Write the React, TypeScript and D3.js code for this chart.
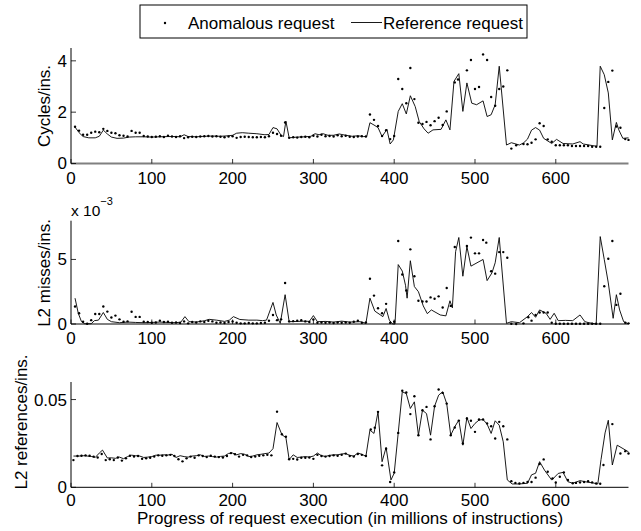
import React from 'react';
import * as d3 from 'd3';

// ---------- data ----------
const xTicks = [0, 100, 200, 300, 400, 500, 600];
const cpiTicks = [0, 2, 4];
const cpiTickLabels = ['0', '2', '4'];
const l2mTicks = [0, 5];
const l2mTickLabels = ['0', '5'];
const l2rTicks = [0, 0.05];
const l2rTickLabels = ['0', '0.05'];

const legendLabels = ['Anomalous request', 'Reference request'];
const yLabels = ['Cycles/ins.', 'L2 misses/ins.', 'L2 references/ins.'];
const xLabel = 'Progress of request execution (in millions of instructions)';

// Cycles per instruction — reference request (line)
const cpiRef: [number, number][] = [
  [5, 1.42], [10, 1.2], [15, 1.05], [22, 1.0], [30, 1.0], [35, 1.06], [40, 1.3], [45, 1.15], [50, 1.03], [57, 0.98],
  [65, 0.99], [72, 1.03], [80, 1.04], [90, 1.04], [100, 1.03], [110, 1.04], [120, 1.05], [130, 1.05], [135, 1.04], [140, 1.12],
  [145, 1.05], [155, 1.04], [165, 1.06], [175, 1.07], [185, 1.06], [195, 1.08], [200, 1.1], [205, 1.18], [212, 1.2], [220, 1.18],
  [230, 1.16], [240, 1.12], [245, 1.13], [250, 1.4], [255, 1.35], [260, 1.1], [263, 1.05], [266, 1.65], [270, 1.0], [280, 1.03],
  [290, 1.04], [297, 1.06], [302, 1.16], [307, 1.12], [312, 1.16], [318, 1.1], [325, 1.1], [332, 1.15], [340, 1.1], [348, 1.06],
  [355, 1.08], [362, 1.05], [366, 1.05], [370, 1.59], [375, 1.5], [380, 1.4], [385, 1.05], [391, 1.33], [395, 0.76], [399, 0.92],
  [405, 2.03], [410, 2.33], [415, 1.93], [420, 2.64], [426, 2.22], [431, 1.63], [437, 1.35], [442, 1.18], [448, 1.31], [458, 1.33],
  [464, 1.7], [469, 1.31], [474, 3.2], [480, 3.5], [485, 2.03], [490, 3.14], [496, 2.35], [502, 2.29], [510, 2.44], [515, 1.83],
  [520, 1.9], [525, 2.29], [530, 3.79], [539, 0.72], [545, 0.81], [555, 0.72], [560, 0.8], [565, 0.95], [570, 1.3], [575, 1.4],
  [580, 1.3], [585, 0.98], [595, 0.78], [601, 0.94], [609, 0.78], [621, 0.76], [630, 0.85], [634, 0.76], [645, 0.7], [651, 0.67],
  [655, 3.79], [660, 3.46], [665, 2.75], [670, 0.92], [675, 1.6], [678, 1.31], [683, 0.98], [690, 1.0],
];

// Cycles per instruction — anomalous request (dots)
const cpiAnom: [number, number][] = [
  [5, 1.43], [10, 1.28], [15, 1.12], [20, 1.12], [25, 1.2], [30, 1.24], [35, 1.22], [40, 1.35], [45, 1.27], [50, 1.2],
  [55, 1.18], [60, 1.1], [65, 1.08], [70, 1.05], [75, 1.27], [80, 1.2], [85, 1.2], [90, 1.07], [95, 1.05], [100, 1.03],
  [105, 1.04], [110, 1.06], [115, 1.03], [120, 1.08], [125, 1.05], [130, 1.03], [135, 1.06], [140, 0.99], [145, 1.02], [150, 1.04],
  [155, 1.03], [160, 1.05], [165, 1.06], [170, 1.07], [175, 1.05], [180, 1.06], [185, 1.04], [190, 1.02], [195, 1.05], [200, 1.06],
  [205, 1.0], [210, 1.03], [215, 1.04], [220, 1.03], [225, 1.02], [230, 1.02], [235, 1.03], [240, 1.02], [245, 1.06], [250, 1.2],
  [255, 1.15], [260, 1.08], [265, 1.6], [270, 1.0], [275, 1.02], [280, 1.01], [285, 1.03], [290, 1.04], [295, 1.02], [300, 1.08],
  [305, 1.05], [310, 1.12], [315, 1.06], [320, 1.07], [325, 1.05], [330, 1.1], [335, 1.06], [340, 1.08], [345, 1.04], [350, 1.03],
  [355, 1.05], [360, 1.06], [365, 1.05], [370, 1.91], [375, 1.7], [380, 1.46], [385, 1.07], [390, 1.3], [395, 0.95], [400, 1.07],
  [405, 3.29], [410, 2.9], [415, 2.35], [420, 3.72], [425, 2.51], [430, 1.59], [435, 1.54], [440, 1.62], [445, 1.49], [450, 1.65],
  [455, 1.78], [460, 1.5], [465, 2.03], [475, 3.16], [479, 3.27], [490, 3.63], [495, 4.03], [500, 2.9], [505, 2.98], [510, 4.25],
  [515, 4.03], [520, 2.59], [525, 2.25], [530, 2.9], [535, 3.0], [540, 3.63], [545, 0.58], [551, 0.71], [560, 0.76], [565, 0.75],
  [570, 0.81], [575, 0.94], [580, 1.57], [585, 1.46], [590, 0.94], [595, 0.85], [600, 0.71], [605, 0.71], [610, 0.71], [615, 0.71],
  [620, 0.68], [625, 0.68], [630, 0.68], [635, 0.68], [640, 0.68], [645, 0.65], [650, 0.65], [655, 0.65], [660, 2.16], [665, 3.18],
  [670, 3.62], [675, 1.44], [680, 1.39], [686, 0.95], [690, 0.92],
];

// L2 misses per instruction (x 10^-3) — reference (line)
const l2mRef: [number, number][] = [
  [5, 2.0], [9, 0.83], [13, 0.18], [17, 0.02], [25, 0.02], [29, 0.26], [34, 0.3], [40, 0.89], [45, 0.36], [50, 0.18],
  [60, 0.1], [70, 0.15], [80, 0.12], [90, 0.1], [100, 0.12], [110, 0.15], [120, 0.12], [130, 0.1], [136, 0.15], [141, 0.57],
  [146, 0.18], [155, 0.15], [165, 0.25], [171, 0.36], [180, 0.3], [190, 0.2], [196, 0.3], [201, 0.57], [209, 0.35], [220, 0.3],
  [230, 0.3], [237, 0.26], [242, 0.3], [250, 1.67], [254, 0.7], [259, 0.05], [265, 2.27], [270, 0.18], [280, 0.2], [290, 0.22],
  [295, 0.2], [300, 0.65], [305, 0.18], [315, 0.2], [325, 0.15], [335, 0.22], [345, 0.15], [358, 0.18], [365, 0.05], [370, 2.0],
  [376, 1.0], [386, 0.57], [390, 1.2], [394, 0.3], [398, 0.0], [401, 0.0], [405, 4.6], [410, 4.1], [414, 3.0], [416, 2.0],
  [420, 4.9], [425, 2.9], [430, 2.5], [436, 1.4], [441, 0.8], [446, 1.09], [457, 0.7], [464, 0.63], [469, 1.8], [472, 1.25],
  [476, 5.6], [480, 6.7], [485, 3.7], [490, 6.0], [495, 4.48], [510, 5.0], [515, 3.36], [521, 3.96], [525, 4.74], [530, 6.7],
  [539, 0.05], [545, 0.18], [555, 0.1], [565, 0.57], [570, 0.89], [575, 0.52], [580, 1.09], [588, 0.83], [593, 0.36], [598, 0.83],
  [603, 0.26], [612, 0.28], [621, 0.26], [630, 0.7], [636, 0.18], [641, 0.1], [650, 0.0], [655, 6.77], [660, 5.0], [665, 3.18],
  [671, 0.44], [675, 2.27], [679, 1.09], [684, 0.18], [690, 0.0],
];

// L2 misses per instruction (x 10^-3) — anomalous (dots)
const l2mAnom: [number, number][] = [
  [5, 1.35], [10, 0.83], [15, 0.18], [20, 0.02], [25, 0.3], [30, 0.78], [35, 0.78], [40, 1.35], [45, 0.96], [50, 0.5],
  [55, 0.65], [60, 0.36], [65, 0.18], [70, 0.2], [75, 0.95], [80, 0.55], [85, 0.55], [90, 0.18], [95, 0.15], [100, 0.1],
  [105, 0.12], [110, 0.26], [115, 0.15], [120, 0.18], [125, 0.1], [130, 0.12], [135, 0.08], [140, 0.2], [145, 0.05], [150, 0.15],
  [155, 0.12], [160, 0.2], [165, 0.15], [170, 0.25], [175, 0.2], [180, 0.1], [185, 0.12], [190, 0.08], [195, 0.15], [200, 0.2],
  [205, 0.1], [210, 0.05], [215, 0.05], [220, 0.08], [225, 0.05], [230, 0.05], [235, 0.08], [240, 0.1], [245, 0.25], [250, 0.7],
  [255, 0.3], [260, 0.36], [265, 3.18], [270, 0.2], [275, 0.22], [280, 0.25], [285, 0.3], [290, 0.2], [295, 0.15], [300, 0.35],
  [305, 0.1], [310, 0.12], [315, 0.1], [320, 0.12], [325, 0.08], [330, 0.12], [335, 0.1], [340, 0.12], [345, 0.1], [350, 0.18],
  [355, 0.25], [360, 0.1], [365, 0.12], [370, 3.5], [375, 2.2], [380, 1.22], [385, 0.83], [390, 1.56], [395, 0.1], [400, 0.18],
  [405, 6.43], [410, 3.83], [415, 2.6], [420, 5.78], [425, 3.7], [430, 1.8], [435, 1.74], [440, 1.74], [445, 2.06], [450, 1.95],
  [455, 2.14], [460, 1.28], [465, 2.79], [470, 1.4], [475, 5.96], [490, 6.04], [495, 6.69], [500, 5.47], [505, 5.47], [510, 6.51],
  [514, 6.3], [520, 4.09], [525, 3.9], [530, 5.57], [535, 5.57], [540, 5.13], [545, 0.02], [551, 0.0], [560, 0.05], [566, 0.52],
  [570, 0.26], [575, 0.7], [580, 0.89], [585, 0.89], [590, 0.89], [595, 0.1], [600, 0.02], [605, 0.02], [610, 0.02], [615, 0.02],
  [620, 0.02], [625, 0.02], [630, 0.02], [635, 0.02], [640, 0.02], [645, 0.02], [650, 0.02], [655, 0.02], [660, 2.92], [665, 5.05],
  [670, 6.43], [675, 1.48], [680, 2.34], [686, 0.1], [690, 0.05],
];

// L2 references per instruction — reference (line)
const l2rRef: [number, number][] = [
  [3, 0.0178], [10, 0.0178], [15, 0.018], [20, 0.0178], [25, 0.0176], [30, 0.017], [35, 0.0195], [39, 0.0212], [45, 0.0167], [50, 0.0168],
  [55, 0.0165], [60, 0.0172], [65, 0.0163], [70, 0.0175], [75, 0.0183], [80, 0.018], [85, 0.0178], [90, 0.017], [95, 0.0172], [100, 0.0175],
  [105, 0.0183], [110, 0.0183], [115, 0.0185], [120, 0.0184], [125, 0.0188], [130, 0.017], [135, 0.018], [140, 0.0175], [145, 0.0172], [150, 0.0178],
  [155, 0.018], [160, 0.0185], [165, 0.0176], [170, 0.0178], [175, 0.0175], [180, 0.0172], [185, 0.0176], [190, 0.0178], [195, 0.0193], [200, 0.0195],
  [205, 0.0185], [210, 0.0192], [215, 0.0188], [220, 0.0175], [225, 0.0178], [230, 0.0185], [235, 0.0188], [240, 0.0192], [245, 0.0195], [250, 0.022],
  [255, 0.0369], [261, 0.03], [266, 0.0283], [270, 0.0158], [275, 0.0185], [280, 0.017], [285, 0.0172], [290, 0.0175], [295, 0.0172], [300, 0.0178],
  [305, 0.0195], [310, 0.018], [315, 0.0176], [320, 0.0182], [325, 0.0185], [330, 0.0185], [335, 0.019], [340, 0.0192], [345, 0.0182], [350, 0.0178],
  [355, 0.0195], [360, 0.0188], [365, 0.0177], [370, 0.0326], [375, 0.0307], [380, 0.043], [385, 0.0146], [390, 0.0227], [396, 0.0042], [400, 0.008],
  [405, 0.031], [410, 0.0544], [415, 0.0534], [420, 0.0449], [425, 0.0487], [430, 0.0297], [435, 0.0439], [440, 0.042], [445, 0.0297], [450, 0.0462],
  [455, 0.0525], [460, 0.0544], [465, 0.0477], [470, 0.0297], [475, 0.0345], [480, 0.0383], [485, 0.024], [490, 0.0398], [495, 0.0335], [500, 0.0364],
  [505, 0.0383], [510, 0.0386], [515, 0.036], [520, 0.0307], [525, 0.0379], [530, 0.0354], [535, 0.0259], [540, 0.0042], [546, 0.0019], [555, 0.0019],
  [565, 0.0023], [570, 0.0071], [575, 0.008], [580, 0.0146], [586, 0.0098], [595, 0.0041], [603, 0.0079], [609, 0.0085], [615, 0.0032], [621, 0.0023],
  [630, 0.0038], [638, 0.003], [646, 0.0025], [652, 0.0019], [656, 0.0158], [661, 0.031], [665, 0.0382], [670, 0.0127], [676, 0.024], [690, 0.0202],
];

// L2 references per instruction — anomalous (dots)
const l2rAnom: [number, number][] = [
  [3, 0.0155], [8, 0.0178], [13, 0.018], [18, 0.0182], [23, 0.018], [28, 0.0175], [33, 0.017], [38, 0.019], [43, 0.0155], [48, 0.016],
  [53, 0.0155], [58, 0.017], [63, 0.0152], [68, 0.0165], [73, 0.018], [78, 0.0175], [83, 0.0178], [88, 0.0162], [93, 0.0165], [98, 0.0168],
  [103, 0.0175], [108, 0.0182], [113, 0.018], [118, 0.0182], [123, 0.0185], [128, 0.0178], [133, 0.016], [138, 0.0148], [143, 0.0165], [148, 0.0175],
  [153, 0.0168], [158, 0.0182], [163, 0.0178], [168, 0.0172], [173, 0.018], [178, 0.0175], [183, 0.0172], [188, 0.017], [193, 0.0178], [198, 0.0195],
  [203, 0.0188], [208, 0.0175], [213, 0.0185], [218, 0.0182], [223, 0.0172], [228, 0.0175], [233, 0.018], [238, 0.0182], [243, 0.0185], [248, 0.0182],
  [255, 0.0431], [261, 0.0302], [266, 0.0288], [270, 0.016], [275, 0.0162], [280, 0.0158], [285, 0.0168], [290, 0.0168], [295, 0.017], [300, 0.0162],
  [305, 0.0185], [310, 0.0178], [315, 0.0175], [320, 0.0178], [325, 0.0182], [330, 0.018], [335, 0.0185], [340, 0.0192], [345, 0.0178], [350, 0.0175],
  [355, 0.019], [360, 0.0185], [365, 0.0178], [371, 0.033], [376, 0.034], [380, 0.043], [385, 0.0125], [390, 0.022], [395, 0.003], [400, 0.0085],
  [405, 0.031], [410, 0.055], [415, 0.054], [420, 0.0417], [425, 0.0519], [430, 0.0297], [435, 0.0439], [440, 0.0458], [445, 0.0273], [450, 0.0462],
  [455, 0.0557], [460, 0.0538], [465, 0.0477], [470, 0.0297], [475, 0.0341], [480, 0.038], [485, 0.025], [490, 0.0392], [495, 0.0379], [500, 0.0316],
  [505, 0.0386], [510, 0.0386], [515, 0.0364], [520, 0.0348], [525, 0.0278], [530, 0.0373], [535, 0.0348], [540, 0.0273], [545, 0.0035], [550, 0.0025],
  [555, 0.0022], [560, 0.0025], [565, 0.003], [570, 0.003], [575, 0.0055], [580, 0.0133], [585, 0.0159], [590, 0.0089], [596, 0.0051], [600, 0.0027],
  [605, 0.006], [610, 0.0085], [615, 0.0042], [621, 0.0023], [625, 0.0025], [630, 0.0028], [635, 0.003], [640, 0.0035], [645, 0.0028], [650, 0.0022],
  [655, 0.002], [659, 0.0127], [670, 0.036], [680, 0.0193], [686, 0.0206], [690, 0.0193],
];

// ---------- rendering ----------
const FONT = '"Liberation Sans", Arial, Helvetica, sans-serif';
const FS = 17;
const X_LEFT = 71;
const X_RIGHT = 628.5;

const x = d3.scaleLinear().domain([0, 690]).range([X_LEFT, X_RIGHT]);

type PanelProps = {
  top: number;
  bottom: number;
  yMax: number;
  ticks: number[];
  tickLabels: string[];
  refData: [number, number][];
  anomData: [number, number][];
  yLabel: string;
  yLabelX: number;
  yLabelY: number;
  axisColor: string;
  axisWidth: number;
  tickLabelOffset: number;
};

function Panel(p: PanelProps) {
  const y = d3.scaleLinear().domain([0, p.yMax]).range([p.bottom, p.top]);
  const line = d3
    .line<[number, number]>()
    .x((d) => x(d[0]))
    .y((d) => y(d[1]));
  return (
    <g>
      {/* reference line */}
      <path d={line(p.refData) || ''} fill="none" stroke="#000" strokeWidth={0.9} strokeLinejoin="round" />
      {/* anomalous dots */}
      {p.anomData.map((d, i) => (
        <circle key={i} cx={x(d[0])} cy={y(d[1])} r={1.2} fill="#000" />
      ))}
      {/* x axis */}
      <line x1={X_LEFT} x2={X_RIGHT} y1={p.bottom} y2={p.bottom} stroke={p.axisColor} strokeWidth={p.axisWidth} />
      {xTicks.map((t) => (
        <g key={t}>
          <line x1={x(t)} x2={x(t)} y1={p.bottom} y2={p.bottom - 4.5} stroke="#000" strokeWidth={0.8} />
          <text
            x={x(t)}
            y={p.bottom + p.tickLabelOffset}
            textAnchor="middle"
            fontFamily={FONT}
            fontSize={FS}
            fill="#000"
          >
            {t}
          </text>
        </g>
      ))}
      {/* y axis */}
      <line x1={X_LEFT} x2={X_LEFT} y1={p.top} y2={p.bottom} stroke="#000" strokeWidth={1} />
      {p.ticks.map((t, i) => (
        <g key={i}>
          <line x1={X_LEFT} x2={X_LEFT + 5} y1={y(t)} y2={y(t)} stroke="#000" strokeWidth={0.8} />
          <text
            x={X_LEFT - 4}
            y={y(t)}
            dy="0.35em"
            textAnchor="end"
            fontFamily={FONT}
            fontSize={FS}
            fill="#000"
          >
            {p.tickLabels[i]}
          </text>
        </g>
      ))}
      <text
        transform={`translate(${p.yLabelX},${p.yLabelY}) rotate(-90)`}
        textAnchor="middle"
        dy="0.35em"
        fontFamily={FONT}
        fontSize={FS}
        fill="#000"
      >
        {p.yLabel}
      </text>
    </g>
  );
}

export default function App() {
  return (
    <svg
      width={641}
      height={531}
      viewBox="0 0 641 531"
      style={{ position: 'absolute', left: 0, top: 0, background: '#fff' }}
    >
      <rect x={0} y={0} width={641} height={531} fill="#fff" />
      {/* legend */}
      <g>
        <rect x={140} y={5} width={387} height={33} fill="#fff" stroke="#000" strokeWidth={1} />
        <circle cx={165} cy={23} r={1.2} fill="#000" />
        <text x={188} y={28.5} fontFamily={FONT} fontSize={FS} fill="#000">
          {legendLabels[0]}
        </text>
        <line x1={351} x2={382} y1={22.5} y2={22.5} stroke="#000" strokeWidth={0.9} />
        <text x={383} y={28.5} fontFamily={FONT} fontSize={FS} fill="#000">
          {legendLabels[1]}
        </text>
      </g>

      <Panel
        top={48}
        bottom={163.5}
        yMax={4.5}
        ticks={cpiTicks}
        tickLabels={cpiTickLabels}
        refData={cpiRef}
        anomData={cpiAnom}
        yLabel={yLabels[0]}
        yLabelX={44}
        yLabelY={106}
        axisColor="#808080"
        axisWidth={2}
        tickLabelOffset={20}
      />
      <Panel
        top={220.7}
        bottom={324}
        yMax={8}
        ticks={l2mTicks}
        tickLabels={l2mTickLabels}
        refData={l2mRef}
        anomData={l2mAnom}
        yLabel={yLabels[1]}
        yLabelX={44}
        yLabelY={273}
        axisColor="#000"
        axisWidth={1}
        tickLabelOffset={19.5}
      />
      <text x={71} y={215.5} fontFamily={FONT} fontSize={15.5} fill="#000">
        x 10
        <tspan dy={-11} fontSize={11}>
          −3
        </tspan>
      </text>
      <Panel
        top={382}
        bottom={487.3}
        yMax={0.06}
        ticks={l2rTicks}
        tickLabels={l2rTickLabels}
        refData={l2rRef}
        anomData={l2rAnom}
        yLabel={yLabels[2]}
        yLabelX={21}
        yLabelY={422}
        axisColor="#000"
        axisWidth={1}
        tickLabelOffset={19}
      />
      <text
        x={350}
        y={524}
        textAnchor="middle"
        fontFamily={FONT}
        fontSize={FS}
        fill="#000"
      >
        {xLabel}
      </text>
    </svg>
  );
}
